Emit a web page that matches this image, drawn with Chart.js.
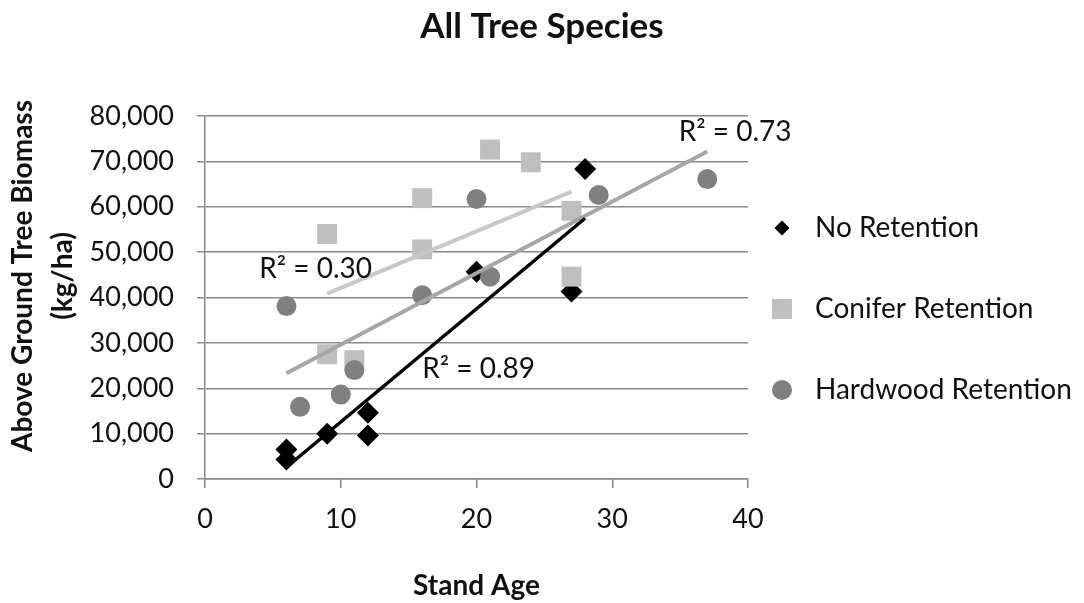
<!DOCTYPE html>
<html>
<head>
<meta charset="utf-8">
<script src="https://cdn.jsdelivr.net/npm/chart.js@4.4.0/dist/chart.umd.min.js"></script>
<style>
  html, body { margin: 0; padding: 0; background: #ffffff; }
  #wrap { width: 1084px; height: 603px; position: relative; }
  canvas { display: block; }
</style>
</head>
<body>
<div id="wrap"><canvas id="chart" width="1084" height="603"></canvas></div>
<script>
// ---------- data ----------
const chartTitle = 'All Tree Species';
const xAxisTitle = 'Stand Age';
const yAxisTitle = ['Above Ground Tree Biomass', '(kg/ha)'];
const seriesNames = ['No Retention', 'Conifer Retention', 'Hardwood Retention'];

const noRetentionAge     = [6, 6, 9, 12, 12, 20, 27, 28];
const noRetentionBiomass = [6500, 4300, 10000, 14600, 9600, 45700, 41300, 68300];

const coniferAge     = [9, 9, 11, 16, 16, 21, 24, 27, 27];
const coniferBiomass = [54000, 27500, 26200, 61900, 50600, 72600, 69800, 59100, 44600];

const hardwoodAge     = [6, 7, 10, 11, 16, 20, 21, 29, 37];
const hardwoodBiomass = [38100, 15900, 18600, 24000, 40500, 61700, 44600, 62600, 66100];

const rSquaredLabels = ['R² = 0.89', 'R² = 0.30', 'R² = 0.73'];

const xTickValues = [0, 10, 20, 30, 40];
const yTickValues = [0, 10000, 20000, 30000, 40000, 50000, 60000, 70000, 80000];

// ---------- helpers ----------
function toPoints(xs, ys) { return xs.map((x, i) => ({ x: x, y: ys[i] })); }
function linearTrend(xs, ys) {
  const n = xs.length;
  const mx = xs.reduce((a, b) => a + b, 0) / n;
  const my = ys.reduce((a, b) => a + b, 0) / n;
  let sxy = 0, sxx = 0;
  for (let i = 0; i < n; i++) { sxy += (xs[i] - mx) * (ys[i] - my); sxx += (xs[i] - mx) * (xs[i] - mx); }
  const slope = sxy / sxx, icpt = my - slope * mx;
  const x0 = Math.min(...xs), x1 = Math.max(...xs);
  return [{ x: x0, y: icpt + slope * x0 }, { x: x1, y: icpt + slope * x1 }];
}

const FONT = 'Lato, "Open Sans", "Liberation Sans", sans-serif';
const TEXT = '#111111';
const GRID = '#898989';

// ---------- plugins ----------
const decorPlugin = {
  id: 'decor',
  afterDraw(chart, args, opts) {
    const ctx = chart.ctx;
    const xs = chart.scales.x, ys = chart.scales.y;
    ctx.save();
    ctx.fillStyle = TEXT;

    // main title
    ctx.font = 'bold 35px ' + FONT;
    ctx.textAlign = 'center';
    ctx.textBaseline = 'alphabetic';
    ctx.fillText(chartTitle, 542, 38);

    // y axis title (rotated, two lines)
    ctx.font = 'bold 28px ' + FONT;
    const yTitleBaselines = [32, 72];
    yAxisTitle.forEach((line, i) => {
      ctx.save();
      ctx.translate(yTitleBaselines[i], 276);
      ctx.rotate(-Math.PI / 2);
      ctx.textAlign = 'center';
      ctx.textBaseline = 'alphabetic';
      ctx.fillText(line, 0, 0);
      ctx.restore();
    });

    // R² labels anchored in data coordinates
    ctx.font = '28px ' + FONT;
    ctx.textAlign = 'left';
    ctx.textBaseline = 'alphabetic';
    opts.rLabelAnchors.forEach((a, i) => {
      ctx.fillText(rSquaredLabels[i], xs.getPixelForValue(a[0]), ys.getPixelForValue(a[1]));
    });

    // legend
    const leg = opts.legend;
    chart.data.datasets.filter(d => d.isSeries).forEach((d, i) => {
      const cy = leg.top + i * leg.gap;
      ctx.fillStyle = d.backgroundColor;
      ctx.strokeStyle = d.backgroundColor;
      Chart.helpers.drawPoint(ctx, { pointStyle: d.pointStyle, radius: d.legendRadius, rotation: 0, borderWidth: 0 }, leg.markerX, cy);
      ctx.fillStyle = TEXT;
      ctx.font = '28px ' + FONT;
      ctx.textAlign = 'left';
      ctx.textBaseline = 'alphabetic';
      ctx.fillText(d.label, leg.textX, cy + 9);
    });
    ctx.restore();
  }
};

// ---------- chart ----------
const ctx = document.getElementById('chart').getContext('2d');
new Chart(ctx, {
  type: 'scatter',
  data: {
    datasets: [
      { type: 'line', label: 'trend-no', data: linearTrend(noRetentionAge, noRetentionBiomass),
        borderColor: '#000000', borderWidth: 3.5, pointRadius: 0, showLine: true, fill: false, order: 0 },
      { type: 'line', label: 'trend-hw', data: linearTrend(hardwoodAge, hardwoodBiomass),
        borderColor: '#A6A6A6', borderWidth: 4, pointRadius: 0, showLine: true, fill: false, order: 1 },
      { type: 'line', label: 'trend-con', data: linearTrend(coniferAge, coniferBiomass),
        borderColor: '#C8C8C8', borderWidth: 4, pointRadius: 0, showLine: true, fill: false, order: 1 },
      { label: seriesNames[0], isSeries: true, data: toPoints(noRetentionAge, noRetentionBiomass),
        pointStyle: 'rectRot', pointRadius: 11, legendRadius: 7.5, backgroundColor: '#000000',
        pointBackgroundColor: '#000000', pointBorderWidth: 0, order: 4 },
      { label: seriesNames[1], isSeries: true, data: toPoints(coniferAge, coniferBiomass),
        pointStyle: 'rect', pointRadius: 14.1, legendRadius: 14.1, backgroundColor: '#BFBFBF',
        pointBackgroundColor: '#BFBFBF', pointBorderWidth: 0, order: 3 },
      { label: seriesNames[2], isSeries: true, data: toPoints(hardwoodAge, hardwoodBiomass),
        pointStyle: 'circle', pointRadius: 10, legendRadius: 10, backgroundColor: '#808080',
        pointBackgroundColor: '#808080', pointBorderWidth: 0, order: 2 }
    ]
  },
  options: {
    responsive: false,
    devicePixelRatio: 1,
    animation: false,
    events: [],
    layout: { padding: { top: 116, right: 336, bottom: 0, left: 0 } },
    plugins: {
      legend: { display: false },
      title: { display: false },
      tooltip: { enabled: false },
      decor: {
        rLabelAnchors: [[16.0, 22200], [4.0, 44300], [34.9, 74400]],
        legend: { top: 228, gap: 81, markerX: 782, textX: 815 }
      }
    },
    scales: {
      x: {
        type: 'linear', min: 0, max: 40,
        afterBuildTicks: (s) => { s.ticks = xTickValues.map(v => ({ value: v })); },
        afterFit: (s) => { s.height = 124; },
        ticks: { color: TEXT, font: { family: FONT, size: 27 }, padding: 15 },
        grid: { drawOnChartArea: false, drawTicks: true, tickLength: 9, color: GRID, lineWidth: 1.5 },
        border: { display: true, color: GRID, width: 1.5 },
        title: { display: true, text: xAxisTitle, color: TEXT,
                 font: { family: FONT, size: 28, weight: 'bold', lineHeight: 1.2 },
                 padding: { top: 0, bottom: 0 } }
      },
      y: {
        type: 'linear', min: 0, max: 80000,
        afterBuildTicks: (s) => { s.ticks = yTickValues.map(v => ({ value: v })); },
        afterFit: (s) => { s.width = 205; },
        ticks: { color: TEXT, font: { family: FONT, size: 27 }, padding: 23,
                 callback: (v) => Number(v).toLocaleString('en-US') },
        grid: { drawOnChartArea: true, drawTicks: true, tickLength: 8, color: GRID, lineWidth: 1.5 },
        border: { display: true, color: GRID, width: 1.5 }
      }
    }
  },
  plugins: [decorPlugin]
});
</script>
</body>
</html>
